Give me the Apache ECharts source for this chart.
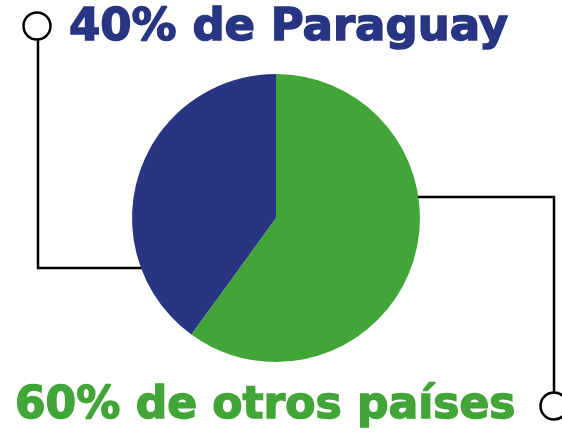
<!DOCTYPE html>
<html>
<head>
<meta charset="utf-8">
<script src="https://cdn.jsdelivr.net/npm/echarts@6/dist/echarts.min.js"></script>
<style>
  html, body { margin: 0; padding: 0; background: #fff; }
  #chart { width: 562px; height: 433px; }
</style>
</head>
<body>
<div id="chart"></div>
<script>
// origen de los productos
const categories = ['otros países', 'Paraguay']
const values = [60, 40]
const colors = ['#41a637', '#283583']

const FONT = '"DejaVu Sans", sans-serif'

const chart = echarts.init(document.getElementById('chart'))

function label(i) { return values[i] + '% de ' + categories[i] }

chart.setOption({
  animation: false,
  series: [{
    type: 'pie',
    z: 2,
    center: [276, 218],
    radius: [0, 144],
    startAngle: 90,
    clockwise: true,
    label: { show: false },
    labelLine: { show: false },
    emphasis: { disabled: true },
    itemStyle: { borderWidth: 0 },
    data: categories.map((c, i) => ({ name: c, value: values[i], itemStyle: { color: colors[i] } }))
  }],
  graphic: [
    // conectores (detrás del pie)
    { type: 'polyline', z: -1, shape: { points: [[38, 40], [38, 268], [150, 268]] },
      style: { stroke: '#000', lineWidth: 2.5, fill: null } },
    { type: 'polyline', z: -1, shape: { points: [[400, 197], [554, 197], [554, 393]] },
      style: { stroke: '#000', lineWidth: 2.5, fill: null } },
    { type: 'circle', shape: { cx: 37, cy: 26, r: 13.5 }, style: { stroke: '#000', lineWidth: 2.5, fill: '#fff' } },
    { type: 'circle', shape: { cx: 554, cy: 406, r: 13.5 }, style: { stroke: '#000', lineWidth: 2.5, fill: '#fff' } },
    { type: 'text', x: 69, y: 28,
      style: { text: label(1), fill: colors[1], stroke: colors[1], lineWidth: 1.5,
        font: 'bold 45px ' + FONT, verticalAlign: 'middle' } },
    { type: 'text', x: 15, y: 407,
      style: { text: label(0), fill: colors[0], stroke: colors[0], lineWidth: 1.5,
        font: 'bold 44px ' + FONT, verticalAlign: 'middle' } }
  ]
})
</script>
</body>
</html>
